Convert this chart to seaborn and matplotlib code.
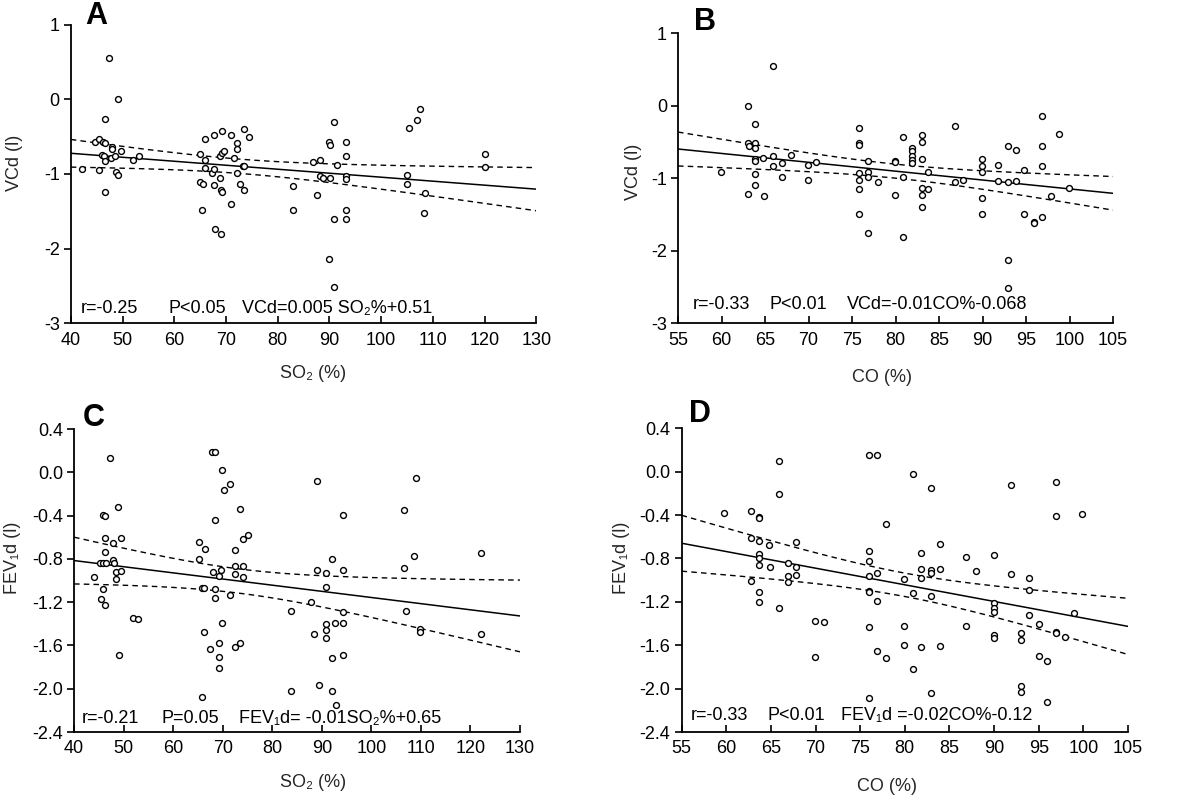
import numpy as np
import pandas as pd
import matplotlib
matplotlib.use("Agg")
import matplotlib.pyplot as plt
import seaborn as sns

# ---------------- data ----------------
so2_a = [42.1, 44.7, 45.5, 46.3, 46.7, 47.4, 49.2, 46.6, 45.5, 46.6, 46.0, 46.4, 46.7, 47.9, 48.0,
         47.8, 48.6, 48.8, 49.2, 49.7, 52.0, 53.1, 64.9, 64.9, 65.5, 65.4, 65.9, 65.9, 66.0, 67.6,
         67.3, 67.7, 67.6, 67.9, 69.1, 69.3, 68.9, 69.2, 69.6, 68.8, 69.0, 69.3, 71.0, 70.9, 71.5,
         72.1, 72.1, 72.1, 72.8, 73.5, 73.2, 73.5, 73.5, 74.4, 83.0, 83.0, 86.9, 88.2, 87.5, 88.2,
         88.7, 90.0, 90.1, 90.1, 90.0, 90.9, 90.9, 90.9, 91.5, 93.1, 93.1, 93.1, 93.1, 93.1, 93.1,
         104.9, 104.9, 105.4, 106.9, 107.5, 108.4, 108.3, 120.0, 120.0]
vcd_a = [-0.93, -0.57, -0.53, -0.57, -0.59, 0.55, 0.01, -0.26, -0.95, -1.24, -0.74, -0.76, -0.83, -0.64, -0.67,
         -0.79, -0.76, -0.98, -1.01, -0.69, -0.81, -0.76, -0.73, -1.11, -1.13, -1.48, -0.53, -0.81, -0.92, -0.48,
         -0.99, -0.94, -1.15, -1.74, -1.80, -0.42, -0.76, -0.72, -0.69, -1.05, -1.22, -1.24, -0.48, -1.40, -0.78,
         -0.59, -0.67, -0.99, -1.13, -1.21, -0.90, -0.90, -0.40, -0.51, -1.16, -1.49, -0.84, -0.82, -1.28, -1.03,
         -1.05, -0.57, -0.61, -1.05, -2.14, -0.30, -1.60, -2.51, -0.88, -0.57, -0.76, -1.03, -1.07, -1.49, -1.61,
         -1.01, -1.13, -0.38, -0.28, -0.13, -1.26, -1.53, -0.73, -0.91]

co_b = [59.9, 63.0, 63.0, 63.0, 63.2, 63.85, 63.85, 63.85, 63.85, 63.85, 63.85, 63.85, 64.9, 64.8, 65.9,
        65.9, 65.9, 66.9, 66.9, 67.95, 69.9, 69.9, 70.9, 75.8, 75.8, 75.8, 75.8, 75.8, 75.8, 75.8,
        76.8, 76.8, 76.8, 76.8, 78.0, 79.9, 79.9, 79.9, 80.9, 80.9, 80.9, 81.9, 81.9, 81.9, 81.9,
        81.9, 83.0, 83.0, 83.0, 83.0, 83.0, 83.0, 83.7, 83.7, 86.8, 86.8, 87.8, 89.9, 89.9, 89.9,
        89.9, 89.9, 91.8, 91.8, 92.9, 92.9, 92.9, 92.9, 93.8, 93.8, 94.8, 94.8, 95.9, 95.9, 96.8,
        96.8, 96.8, 96.8, 97.9, 98.8, 99.9]
vcd_b = [-0.91, 0.0, -0.52, -1.22, -0.56, -0.26, -0.52, -0.59, -0.74, -0.77, -0.94, -1.10, -1.25, -0.72, 0.55,
         -0.69, -0.84, -0.79, -0.99, -0.68, -0.82, -1.02, -0.78, -0.31, -0.52, -0.55, -0.93, -1.02, -1.15, -1.49,
         -0.76, -0.92, -0.98, -1.75, -1.06, -0.76, -0.78, -1.23, -0.43, -0.99, -1.81, -0.58, -0.63, -0.69, -0.75,
         -0.79, -0.41, -0.50, -0.74, -1.14, -1.23, -1.40, -0.92, -1.15, -0.28, -1.06, -1.02, -0.74, -0.84, -0.92,
         -1.28, -1.49, -0.82, -1.04, -0.56, -1.06, -2.13, -2.52, -0.61, -1.04, -0.89, -1.49, -1.60, -1.62, -0.14,
         -0.56, -0.83, -1.53, -1.25, -0.39, -1.14]

so2_c = [44.0, 45.4, 46.3, 45.9, 45.3, 45.9, 46.4, 45.9, 46.3, 46.3, 46.3, 47.3, 47.9, 47.9, 48.0,
         48.4, 48.4, 48.9, 49.4, 49.4, 49.0, 52.0, 53.0, 65.2, 65.2, 65.8, 66.3, 66.3, 65.9, 66.4,
         67.4, 67.9, 68.4, 68.4, 68.1, 68.4, 68.4, 69.3, 69.3, 69.3, 69.3, 69.7, 69.9, 69.9, 70.2,
         71.4, 71.4, 72.5, 72.5, 72.5, 72.5, 73.5, 73.5, 74.1, 74.1, 74.1, 75.2, 83.7, 83.7, 87.9,
         88.5, 89.1, 89.1, 89.4, 90.9, 90.9, 90.9, 90.9, 90.9, 92.1, 92.1, 92.1, 92.6, 92.8, 94.2,
         94.2, 94.2, 94.2, 94.2, 106.6, 106.6, 107.1, 108.6, 109.0, 109.8, 109.8, 122.1, 122.1]
fev_c = [-0.97, -1.17, -1.23, -1.08, -0.84, -0.84, -0.84, -0.39, -0.40, -0.61, -0.74, 0.13, -0.65, -0.81, -0.84,
         -0.92, -0.99, -0.32, -0.61, -0.91, -1.69, -1.35, -1.36, -0.64, -0.80, -1.07, -1.07, -1.48, -2.08, -0.71,
         -1.63, 0.19, 0.19, -0.44, -0.92, -1.08, -1.16, -0.96, -1.58, -1.71, -1.81, -0.90, 0.02, -1.39, -0.16,
         -0.11, -1.13, -0.72, -0.87, -0.94, -1.61, -0.34, -1.58, -0.62, -0.87, -0.97, -0.58, -1.28, -2.02, -1.20,
         -1.49, -0.08, -0.90, -1.97, -0.93, -1.06, -1.40, -1.46, -1.53, -0.80, -1.72, -2.02, -1.39, -2.15, -0.39,
         -0.90, -1.29, -1.39, -1.69, -0.35, -0.88, -1.28, -0.77, -0.05, -1.45, -1.48, -0.75, -1.49]

co_d = [59.8, 62.8, 62.8, 62.8, 63.7, 63.7, 63.7, 63.7, 63.7, 63.7, 63.7, 63.7, 64.8, 64.9, 65.9,
        65.9, 65.9, 66.9, 66.9, 66.9, 67.8, 67.8, 67.8, 69.9, 71.0, 69.9, 76.0, 76.9, 76.0, 76.0,
        76.0, 76.0, 76.0, 76.0, 76.0, 76.9, 76.9, 76.9, 77.9, 77.9, 79.9, 79.9, 79.9, 80.9, 80.9,
        80.9, 81.8, 81.8, 81.8, 81.8, 82.95, 82.95, 82.95, 82.95, 82.95, 83.9, 83.9, 83.9, 86.9, 86.9,
        88.0, 89.97, 89.97, 89.97, 89.97, 89.97, 89.97, 91.9, 91.9, 92.97, 92.97, 92.97, 92.97, 93.9, 93.9,
        93.9, 95.0, 95.0, 95.96, 95.96, 96.9, 96.9, 96.9, 96.9, 97.9, 98.9, 99.9]
fev_d = [-0.38, -0.36, -0.61, -1.01, -0.42, -0.43, -0.64, -0.76, -0.80, -0.86, -1.11, -1.20, -0.68, -0.88, 0.10,
         -0.21, -1.26, -0.84, -0.96, -1.02, -0.65, -0.88, -0.95, -1.38, -1.39, -1.71, 0.15, 0.15, -0.73, -0.82,
         -0.96, -1.10, -1.11, -1.43, -2.09, -0.93, -1.19, -1.65, -0.48, -1.72, -0.99, -1.42, -1.60, -0.02, -1.12,
         -1.82, -0.75, -0.90, -0.98, -1.62, -0.15, -0.91, -0.93, -1.15, -2.04, -0.67, -0.90, -1.61, -0.79, -1.42,
         -0.92, -0.77, -1.21, -1.26, -1.29, -1.51, -1.53, -0.12, -0.94, -1.49, -1.55, -1.98, -2.03, -0.98, -1.09,
         -1.32, -1.40, -1.70, -1.75, -2.12, -0.10, -0.41, -1.48, -1.49, -1.52, -1.30, -0.39]

panel_letters = ["A", "B", "C", "D"]
xlabels = ["SO\u2082 (%)", "CO (%)", "SO\u2082 (%)", "CO (%)"]
ylabels = ["VCd (l)", "VCd (l)", "FEV\u2081d (l)", "FEV\u2081d (l)"]
stat_r = ["r=-0.25", "r=-0.33", "r=-0.21", "r=-0.33"]
stat_p = ["P<0.05", "P<0.01", "P=0.05", "P<0.01"]
stat_eq = ["VCd=0.005 SO\u2082%+0.51", "VCd=-0.01CO%-0.068",
           "FEV\u2081d= -0.01SO\u2082%+0.65", "FEV\u2081d =-0.02CO%-0.12"]
x_so2_ticks = list(range(40, 131, 10))
x_co_ticks = list(range(55, 106, 5))
y_vcd_ticks = [-3, -2, -1, 0, 1]
y_fev_ticks = [-2.4, -2.0, -1.6, -1.2, -0.8, -0.4, 0.0, 0.4]

# ---------------- style ----------------
sns.set_style("ticks")
plt.rcParams["font.family"] = ["Liberation Sans", "DejaVu Sans"]
plt.rcParams["axes.linewidth"] = 1.3

fig = plt.figure(figsize=(12, 7.96), dpi=100)

positions = [
    [0.059, 0.594, 0.388, 0.375],
    [0.565, 0.594, 0.3625, 0.3645],
    [0.0617, 0.0804, 0.3716, 0.3806],
    [0.568, 0.0804, 0.372, 0.3816],
]
datasets = [(so2_a, vcd_a), (co_b, vcd_b), (so2_c, fev_c), (co_d, fev_d)]
xlims = [(40, 130), (55, 105), (40, 130), (55, 105)]
ylims = [(-3, 1), (-3, 1), (-2.4, 0.4), (-2.4, 0.4)]
xticks = [x_so2_ticks, x_co_ticks, x_so2_ticks, x_co_ticks]
yticks = [y_vcd_ticks, y_vcd_ticks, y_fev_ticks, y_fev_ticks]
yfmt = ["{:.0f}", "{:.0f}", "{:.1f}", "{:.1f}"]
ylab_coords = [(-0.12, 0.537), (-0.103, 0.52), (-0.137, 0.574), (-0.135, 0.575)]
xlab_coords = [(0.52, -0.168), (0.47, -0.186), (0.536, -0.168), (0.46, -0.181)]
letter_pos = [(85, 1), (694, 7), (83, 403), (689, 399)]
stat_x = [(0.021, 0.209, 0.368), (0.034, 0.211, 0.388), (0.017, 0.197, 0.370), (0.0195, 0.192, 0.358)]
stat_y = [0.05, 0.066, 0.043, 0.054]
FS = 13

T95 = 1.99
for i in range(4):
    ax = fig.add_axes(positions[i])
    x = np.asarray(datasets[i][0], float)
    y = np.asarray(datasets[i][1], float)
    df = pd.DataFrame({"x": x, "y": y})

    # OLS fit and 95% confidence band of the mean
    n = len(x)
    b1, b0 = np.polyfit(x, y, 1)
    resid = y - (b0 + b1 * x)
    s = np.sqrt(np.sum(resid ** 2) / (n - 2))
    xm = x.mean()
    sxx = np.sum((x - xm) ** 2)
    xs = np.linspace(xlims[i][0], xlims[i][1], 60)
    fit = b0 + b1 * xs
    half = T95 * s * np.sqrt(1.0 / n + (xs - xm) ** 2 / sxx)
    lines = pd.DataFrame({"x": xs, "fit": fit, "lo": fit - half, "hi": fit + half})

    sns.scatterplot(data=df, x="x", y="y", ax=ax, marker="o", s=18,
                    facecolor="white", edgecolor="black", linewidth=1.0, zorder=3)
    sns.lineplot(data=lines, x="x", y="fit", ax=ax, color="black", linewidth=1.1, zorder=2)
    for col in ("lo", "hi"):
        sns.lineplot(data=lines, x="x", y=col, ax=ax, color="black", linewidth=1.0,
                     linestyle=(0, (4, 3)), zorder=2)

    ax.set_xlim(*xlims[i])
    ax.set_ylim(*ylims[i])
    ax.set_xticks(xticks[i])
    ax.set_yticks(yticks[i])
    ax.set_yticklabels([yfmt[i].format(v) for v in yticks[i]])
    ax.tick_params(axis="x", direction="in", length=5, width=1.2, labelsize=FS, pad=6, colors="black")
    ax.tick_params(axis="y", direction="out", length=5, width=1.2, labelsize=FS, pad=3, colors="black")
    for side in ("top", "right"):
        ax.spines[side].set_visible(False)
    for side in ("left", "bottom"):
        ax.spines[side].set_color("black")

    ax.set_xlabel(xlabels[i], fontsize=FS)
    ax.set_ylabel(ylabels[i], fontsize=FS)
    ax.xaxis.set_label_coords(*xlab_coords[i])
    ax.yaxis.set_label_coords(*ylab_coords[i])
    ax.xaxis.label.set_va("center")
    ax.yaxis.label.set_va("center")

    for xp, txt in zip(stat_x[i], (stat_r[i], stat_p[i], stat_eq[i])):
        ax.text(xp, stat_y[i], txt, transform=ax.transAxes, fontsize=FS,
                va="center", ha="left", color="black")

    lx, ly = letter_pos[i]
    fig.text(lx / 1200, 1 - ly / 796, panel_letters[i], fontsize=22, fontweight="bold",
             va="top", ha="left", color="black")

fig.savefig("out.png", dpi=100, facecolor="white")
